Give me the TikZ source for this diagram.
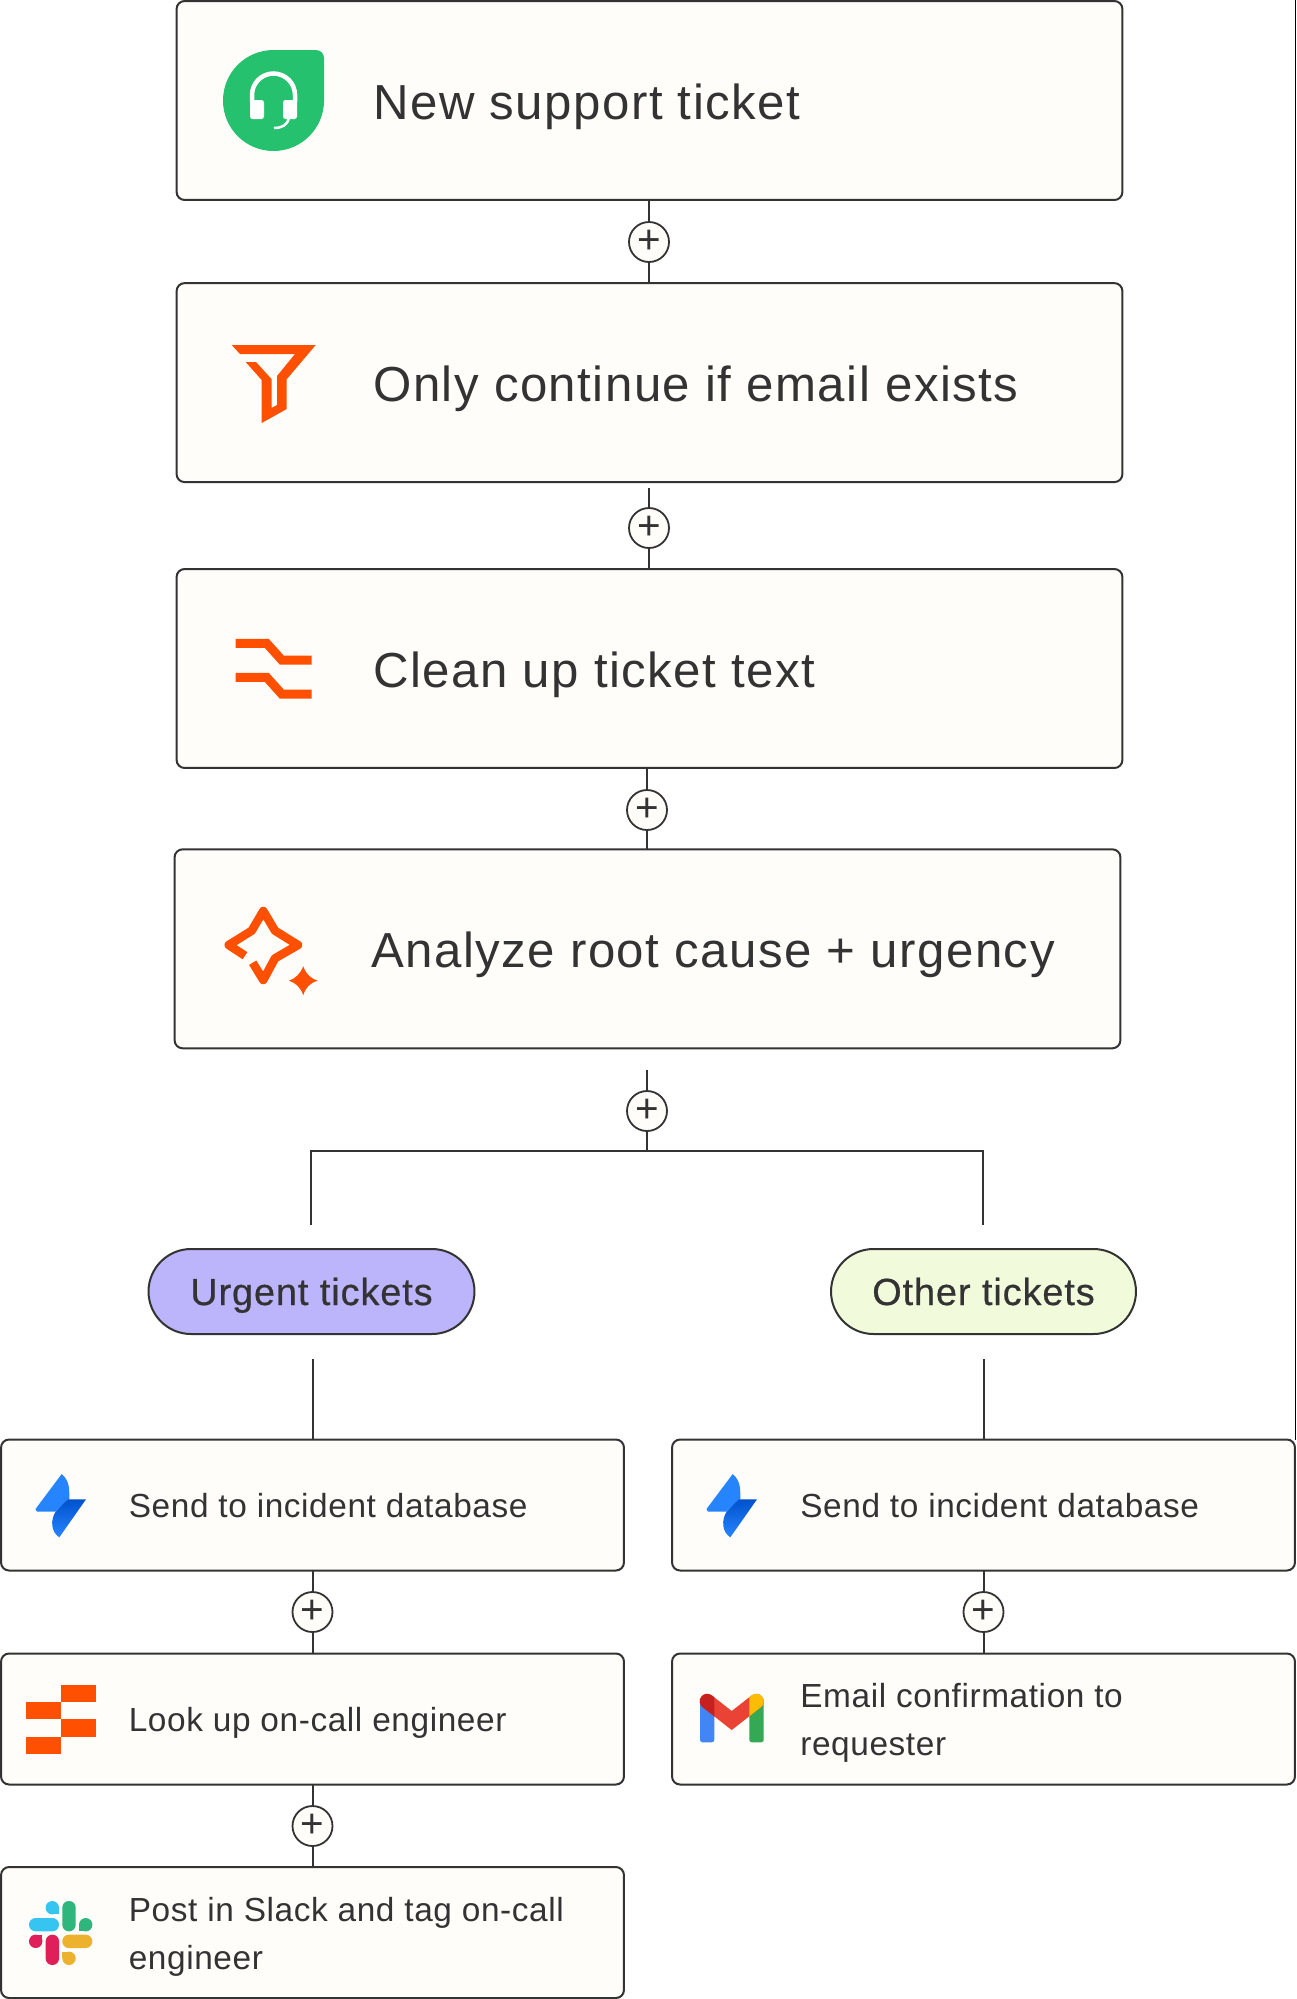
\documentclass[tikz,border=0pt]{standalone}
\usepackage{fontspec}
\setmainfont[LetterSpace=3]{Liberation Sans}
\newfontfamily\smallfont[LetterSpace=1.8]{Liberation Sans}
\newfontfamily\pillfont[LetterSpace=2.5,FakeBold=0.6]{Liberation Sans}
\definecolor{ink}{HTML}{333333}
\definecolor{paper}{HTML}{FFFDF9}
\definecolor{zap}{HTML}{FF4F00}
\definecolor{leaf}{HTML}{25C16F}
\definecolor{urgentfill}{HTML}{BDB5FB}
\definecolor{otherfill}{HTML}{F1FBDC}
\definecolor{jiralight}{HTML}{2684FF}
\definecolor{jiradark}{HTML}{0052CC}
\definecolor{slackblue}{HTML}{36C5F0}
\definecolor{slackgreen}{HTML}{2EB67D}
\definecolor{slackred}{HTML}{E01E5A}
\definecolor{slackyellow}{HTML}{ECB22E}
\definecolor{gblue}{HTML}{4285F4}
\definecolor{ggreen}{HTML}{34A853}
\definecolor{gred}{HTML}{EA4335}
\definecolor{gdark}{HTML}{C5221F}
\definecolor{gyellow}{HTML}{FBBC04}
\tikzset{
  bigbox/.style={draw=ink, fill=paper, line width=0.04cm, rounded corners=0.16cm, outer sep=0pt, minimum width=18.92cm, minimum height=3.98cm},
  smallbox/.style={draw=ink, fill=paper, line width=0.04cm, rounded corners=0.16cm, outer sep=0pt, minimum width=12.46cm, minimum height=2.62cm},
  pillbox/.style={draw=ink, line width=0.04cm, rounded corners=0.85cm, outer sep=0pt, minimum height=1.7cm, text=ink, font=\pillfont\fontsize{21.5}{24}\selectfont, text height=0.54cm, text depth=0pt},
  plusnode/.style={circle, draw=ink, fill=paper, line width=0.036cm, inner sep=0pt, outer sep=0pt, minimum size=0.8cm, text=ink, font=\fontsize{23}{23}\selectfont},
  biglabel/.style={anchor=west, inner sep=0pt, text=ink, font=\fontsize{28}{30}\selectfont, text height=0.7cm, text depth=0pt},
  smalllabel/.style={anchor=west, inner sep=0pt, text=ink, font=\smallfont\fontsize{19}{27.3}\selectfont, align=left},
  link/.style={draw=ink, line width=0.04cm}
}
\begin{document}
\begin{tikzpicture}[x=0.02cm, y=-0.02cm]
    \fill[white] (0,0) rectangle (1296,1999);
    \useasboundingbox (0,0) rectangle (1296,1999);
    \draw[black, line width=0.03cm] (1295.5,0) -- (1295.5,1440);

    \node[bigbox] (NT) at (649.5,100.5) {};
    \node[bigbox] (OC) at (649.5,382.6) {};
    \node[bigbox] (CT) at (649.5,668.5) {};
    \node[bigbox] (AR) at (647.5,948.8) {};
    \node[pillbox, fill=urgentfill, minimum width=6.52cm] (UT) at (311.5,1291.5) {Urgent tickets};
    \node[pillbox, fill=otherfill, minimum width=6.1cm] (OT) at (983.5,1291.5) {Other tickets};
    \node[smallbox] (UD) at (312.5,1505) {};
    \node[smallbox] (LU) at (312.5,1719) {};
    \node[smallbox] (PS) at (312.5,1932.5) {};
    \node[smallbox] (OD) at (983.5,1505) {};
    \node[smallbox] (EC) at (983.5,1719) {};

    \node[biglabel] (NTtext) at (373,101.5) {New support ticket};
    \node[biglabel] (OCtext) at (373,383.5) {Only continue if email exists};
    \node[biglabel] (CTtext) at (373,669.5) {Clean up ticket text};
    \node[biglabel] (ARtext) at (371,949.5) {Analyze root cause + urgency};
    \node[smalllabel] (UDtext) at (128.5,1506) {Send to incident database};
    \node[smalllabel] (LUtext) at (128.5,1723) {Look up on-call engineer};
    \node[smalllabel] (PStext) at (128.5,1936.5) {Post in Slack and tag on-call\\engineer};
    \node[smalllabel] (ODtext) at (800,1506) {Send to incident database};
    \node[smalllabel] (ECtext) at (800,1723) {Email confirmation to\\requester};

    \node[plusnode] (P1) at (649,242) {+};
    \node[plusnode] (P2) at (649,528) {+};
    \node[plusnode] (P3) at (647,810) {+};
    \node[plusnode] (P4) at (647,1111) {+};
    \node[plusnode] (P5) at (312.5,1612) {+};
    \node[plusnode] (P6) at (983.5,1612) {+};
    \node[plusnode] (P7) at (312.5,1826) {+};

    \coordinate (P2top) at (649,488);
    \coordinate (P4top) at (647,1070);
    \coordinate (split) at (647,1150.7);
    \coordinate (UTtop) at (310.5,1225);
    \coordinate (OTtop) at (983,1225);
    \coordinate (UTend) at (312.5,1359);
    \coordinate (OTend) at (983.5,1359);

    \draw[link] (NT.south -| P1) -- (P1) -- (OC.north -| P1);
    \draw[link] (P2top) -- (P2) -- (CT.north -| P2);
    \draw[link] (CT.south -| P3) -- (P3) -- (AR.north -| P3);
    \draw[link] (P4top) -- (P4) -- (split);
    \draw[link] (UTtop) |- (split) -| (OTtop);
    \draw[link] (UTend) -- (UD);
    \draw[link] (OTend) -- (OD);
    \draw[link] (UD) -- (P5) -- (LU);
    \draw[link] (LU) -- (P7) -- (PS);
    \draw[link] (OD) -- (P6) -- (EC);

    % ticket app
    \fill[leaf] (273.5,100.5) circle (50.5);
    \fill[leaf] (273.5,100.5) -- (273.5,50) [rounded corners=0.16cm] -- (324,50) [sharp corners] -- (324,100.5) -- cycle;
    \draw[white, line width=0.09cm] (252,102) -- (252,95) arc[start angle=180, end angle=360, radius=21.5] -- (295,102);
    \fill[white, rounded corners=0.05cm] (250,100) rectangle (264,119);
    \fill[white, rounded corners=0.05cm] (283,100) rectangle (297,119);
    \draw[white, line width=0.05cm] (289,117) .. controls (288,125) and (282,128) .. (274,128);

    % filter
    \fill[zap] (231.7,345) -- (315.7,345) -- (286.7,379.3) -- (286.7,409) -- (261.7,423) -- (261.7,380) -- (245.7,362) -- (256,362) -- (271.5,379) -- (271.5,408) -- (277,405) -- (277,376) -- (295,354) -- (240,354) -- cycle;

    % formatter
    \draw[zap, line width=0.18cm] (235.7,643.3) -- (266.7,643.3) -- (281.7,660) -- (311.7,660);
    \draw[zap, line width=0.18cm] (235.7,677.3) -- (266.7,677.3) -- (281.7,694) -- (311.7,694);

    % sparkles
    \draw[zap, line width=0.17cm, line join=round] (252.7,962.7) -- (263.3,980) -- (275,958.3) -- (298,945) -- (275,930.7) -- (263.3,911) -- (251.7,930.7) -- (228.7,945) -- (245,955.7);
    \fill[zap] (303.3,966.3) .. controls (306,974) and (310,978) .. (317.7,980.7) .. controls (310,983) and (306,987) .. (303.3,995) .. controls (300,987) and (296,983) .. (289,980.7) .. controls (296,978) and (300,974) .. (303.3,966.3) -- cycle;

    % incident database
    \foreach \dx in {0,671}{
      \begin{scope}[shift={(\dx,0)}]
        \fill[jiralight] (61.7,1474) .. controls (70,1481) and (69.3,1490) .. (69.3,1499) -- (55,1511.7) -- (37,1511.7) -- (35.5,1509) -- cycle;
        \shade[top color=jiradark, bottom color=jiralight] (86,1499.3) -- (68,1499.3) -- (56,1511) .. controls (50,1520) and (51,1532) .. (59.3,1537.3) -- cycle;
      \end{scope}
    }

    % on-call lookup
    \fill[zap] (61,1685) rectangle (95.7,1702.3);
    \fill[zap] (26.3,1702.3) rectangle (61,1719.3);
    \fill[zap] (61,1719.3) rectangle (95.7,1736.7);
    \fill[zap] (26.3,1736.7) rectangle (61,1754);

    % slack
    \fill[slackblue, rounded corners=0.13cm] (29,1918) rectangle (59,1931.3);
    \fill[slackblue] (52.3,1907.7) circle (6.7);
    \fill[slackblue] (52.3,1907.7) rectangle (59,1914.3);
    \fill[slackgreen, rounded corners=0.13cm] (62.3,1901) rectangle (75.7,1931.3);
    \fill[slackgreen] (85.7,1924.7) circle (6.7);
    \fill[slackgreen] (79,1924.7) rectangle (85.7,1931.3);
    \fill[slackred, rounded corners=0.13cm] (45.7,1934.7) rectangle (59,1965);
    \fill[slackred] (35.7,1941.3) circle (6.7);
    \fill[slackred] (35.7,1934.7) rectangle (42.3,1941.3);
    \fill[slackyellow, rounded corners=0.13cm] (62.3,1934.7) rectangle (92.3,1948);
    \fill[slackyellow] (69,1958.3) circle (6.7);
    \fill[slackyellow] (62.3,1951.7) rectangle (69,1958.3);

    % gmail
    \fill[gblue, rounded corners=0.05cm] (700,1700) rectangle (714.3,1742.3);
    \fill[ggreen, rounded corners=0.05cm] (749.3,1700) rectangle (763.7,1742.3);
    \draw[gred, line width=0.3cm, line cap=round] (707.2,1701.3) -- (731.7,1720.5) -- (756.3,1701.3);
    \begin{scope}
      \clip (690,1680) rectangle (714.3,1730);
      \draw[gdark, line width=0.3cm, line cap=round] (707.2,1701.3) -- (731.7,1720.5);
    \end{scope}
    \begin{scope}
      \clip (749.3,1680) rectangle (775,1730);
      \draw[gyellow, line width=0.3cm, line cap=round] (731.7,1720.5) -- (756.3,1701.3);
    \end{scope}
  \end{tikzpicture}
\end{document}
